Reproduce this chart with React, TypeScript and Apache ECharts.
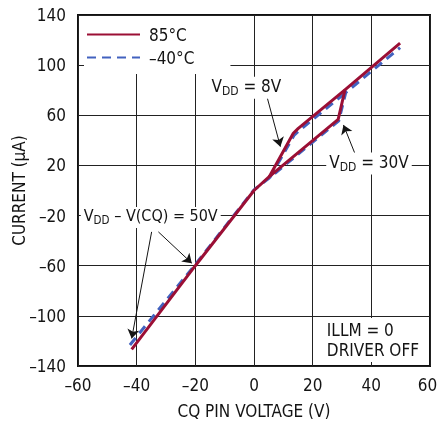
import React, { useEffect, useRef } from 'react';
import * as echarts from 'echarts';

const FONT = "'Liberation Sans Narrow', 'DejaVu Sans Condensed', 'Liberation Sans', Arial, sans-serif";

const xTicks = [-60, -40, -20, 0, 20, 40, 60];
const yTicks = [-140, -100, -60, -20, 20, 60, 100, 140];

const seriesNames = ['85°C', '–40°C'];

// 85°C: main path (VDD = 30V branch) and VDD = 8V branch
const hotMain: number[][] = [
  [-41.7, -126.8], [-20, -60], [0, 0], [5.2, 11], [28.7, 56.8], [31, 80.2], [49.8, 117.6],
];
const hotUpper: number[][] = [
  [5.2, 11], [13.4, 45.7], [15.1, 49.6], [31, 80.2],
];
// -40°C
const coldMain: number[][] = [
  [-42.3, -123.2], [-20, -59], [0, 0.5], [5.4, 10.4], [28.9, 55.6], [31.3, 78.2], [49.8, 114],
];
const coldUpper: number[][] = [
  [5.4, 10.4], [13.7, 44.2], [15.5, 48], [31.3, 78.2],
];

// annotation arrows [from, to] in data coords
const arrows: number[][][] = [
  [[4.4, 75], [9.0, 35]],
  [[34.4, 29.5], [30.5, 52.3]],
  [[-34.9, -33], [-41.7, -118]],
  [[-32.6, -33], [-21.2, -58]],
];

const annotations = [
  { coord: [-2.6, 82], text: '{a|V}{s|DD}{a| = 8V}' },
  { coord: [39.2, 21.5], text: '{a|V}{s|DD}{a| = 30V}' },
  { coord: [-35.2, -21.5], text: '{c|V}{t|DD}{c| – V(CQ) = 50V}' },
];

const noteText = 'ILLM = 0\nDRIVER OFF';

const RED = '#9b0f35';
const BLUE = '#4262bf';
const INK = '#141414';
const FS = 17;

export default function App() {
  const ref = useRef<HTMLDivElement>(null);
  useEffect(() => {
    if (!ref.current) return;
    const chart = echarts.init(ref.current, undefined, { renderer: 'svg' });
    const fmt = (v: number) => String(v).replace('-', '–');
    const rich = {
      a: { fontSize: FS, fontFamily: FONT, color: INK, lineHeight: 18, padding: [0, 0, 3, 0] },
      s: { fontSize: 12, fontFamily: FONT, color: INK, lineHeight: 12, verticalAlign: 'bottom' },
      c: { fontSize: 16, fontFamily: FONT, color: INK, lineHeight: 17, padding: [0, 0, 3, 0] },
      t: { fontSize: 11.5, fontFamily: FONT, color: INK, lineHeight: 12, verticalAlign: 'bottom' },
    };
    const redLine = { color: RED, width: 3 };
    const blueLine = { color: BLUE, width: 3, type: [9, 6] as any };
    const xMax = xTicks[xTicks.length - 1];
    chart.setOption({
      animation: false,
      grid: {
        left: 78, right: 8, top: 15, bottom: 57, containLabel: false, outerBoundsMode: 'none',
        show: true, borderColor: '#111', borderWidth: 2, backgroundColor: 'transparent',
      },
      legend: {
        data: seriesNames,
        orient: 'vertical',
        left: 84,
        top: 16,
        padding: [10, 36, 8, 2],
        itemWidth: 53,
        itemHeight: 14,
        itemGap: 6,
        backgroundColor: '#fff',
        itemStyle: { opacity: 0 },
        textStyle: { fontFamily: FONT, fontSize: FS, color: INK, padding: [0, 0, 0, 4] },
      },
      xAxis: {
        type: 'value',
        min: xTicks[0],
        max: xMax,
        interval: 20,
        name: 'CQ PIN VOLTAGE (V)',
        nameLocation: 'middle',
        nameGap: 36,
        nameMoveOverlap: false,
        nameTextStyle: { fontFamily: FONT, fontSize: FS, color: INK },
        axisLine: { show: false },
        axisTick: { show: false },
        axisLabel: {
          fontFamily: FONT, fontSize: FS, color: INK, margin: 10,
          formatter: (v: number) => (v === xMax ? `{e|${fmt(v)}}` : fmt(v)),
          rich: { e: { fontFamily: FONT, fontSize: FS, color: INK, padding: [0, 5, 0, 0] } },
        },
        splitLine: { show: true, lineStyle: { color: '#222', width: 1 } },
      },
      yAxis: {
        type: 'value',
        min: yTicks[0],
        max: yTicks[yTicks.length - 1],
        interval: 40,
        name: 'CURRENT (µA)',
        nameLocation: 'middle',
        nameGap: 51,
        nameMoveOverlap: false,
        nameTextStyle: { fontFamily: FONT, fontSize: FS, color: INK },
        axisLine: { show: false },
        axisTick: { show: false },
        axisLabel: { fontFamily: FONT, fontSize: FS, color: INK, margin: 12, formatter: fmt },
        splitLine: { show: true, lineStyle: { color: '#222', width: 1 } },
      },
      series: [
        {
          name: seriesNames[1], type: 'line', data: coldMain, symbol: 'none', lineStyle: blueLine, itemStyle: { color: BLUE }, z: 2,
          markLine: {
            silent: true, animation: false,
            symbol: ['none', 'arrow'], symbolSize: 9,
            lineStyle: { color: INK, width: 1, type: 'solid' },
            itemStyle: { color: INK },
            label: { show: false },
            data: arrows.map((a) => [{ coord: a[0] }, { coord: a[1] }]),
          },
          markPoint: {
            silent: true, animation: false,
            symbol: 'rect', symbolSize: 1, itemStyle: { color: 'rgba(0,0,0,0)' },
            label: { show: true, position: 'inside', backgroundColor: '#fff', padding: [2, 3], rich },
            data: annotations.map((a) => ({ coord: a.coord, value: 0, label: { formatter: a.text } })),
          },
        },
        { name: seriesNames[1], type: 'line', data: coldUpper, symbol: 'none', lineStyle: blueLine, itemStyle: { color: BLUE }, z: 2 },
        { name: seriesNames[0], type: 'line', data: hotMain, symbol: 'none', lineStyle: redLine, itemStyle: { color: RED }, z: 3 },
        { name: seriesNames[0], type: 'line', data: hotUpper, symbol: 'none', lineStyle: redLine, itemStyle: { color: RED }, z: 3 },
      ],
      graphic: [
        {
          type: 'text', right: 17, top: 318, z: 10,
          style: { text: noteText, font: `${FS}px ${FONT}`, fill: INK, align: 'right', lineHeight: 20, backgroundColor: '#fff', padding: [2, 2] },
        },
      ],
    });
    return () => chart.dispose();
  }, []);
  return <div ref={ref} style={{ position: 'fixed', left: 0, top: 0, width: 438, height: 423 }} />;
}
